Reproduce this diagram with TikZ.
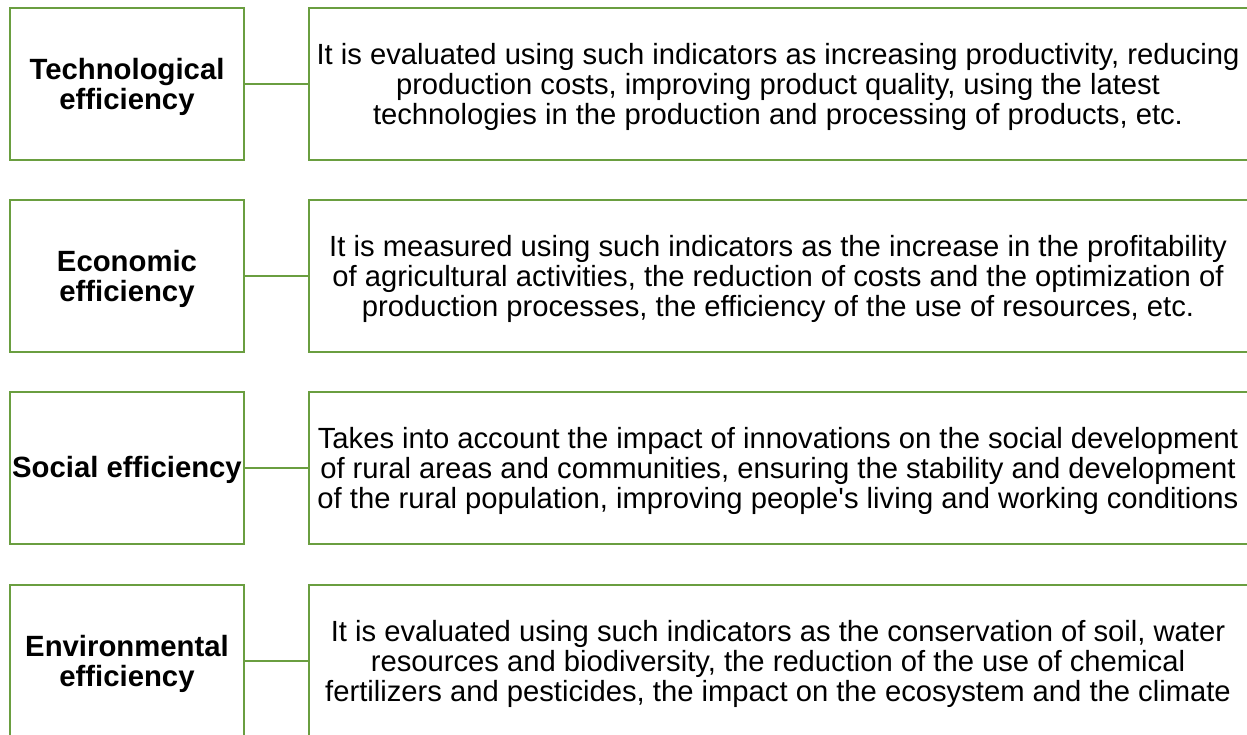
\documentclass[tikz,border=0pt]{standalone}
\usepackage{fontspec}
\setmainfont{Liberation Sans}
\definecolor{boxgreen}{RGB}{106,158,64}
\begin{document}
\begin{tikzpicture}[x=1pt,y=-1pt,
  box/.style={draw=boxgreen,line width=2.7pt,fill=white},
  link/.style={draw=boxgreen,line width=2.7pt},
  lefttext/.style={align=center,font=\fontsize{29.3}{30}\selectfont\bfseries,inner sep=0pt},
  righttext/.style={align=center,font=\fontsize{29.2}{29.7}\selectfont,inner sep=0pt}]
\useasboundingbox (0,0) rectangle (1247,734);
\clip (0,0) rectangle (1247,734);
% row 1
\draw[box] (10,8) rectangle (244,160);
\draw[box] (309,8) rectangle (1262,160);
\node[lefttext] (l1) at (127,87) {Technological\\efficiency};
\node[righttext] (r1) at (778,87) {It is evaluated using such indicators as increasing productivity, reducing\\production costs, improving product quality, using the latest\\technologies in the production and processing of products, etc.};
\coordinate (a1) at (244,84); \coordinate (b1) at (309,84);
\draw[link] (a1) -- (b1);
% row 2
\draw[box] (10,200) rectangle (244,352);
\draw[box] (309,200) rectangle (1262,352);
\node[lefttext] (l2) at (127,279) {Economic\\efficiency};
\node[righttext] (r2) at (778,279) {It is measured using such indicators as the increase in the profitability\\of agricultural activities, the reduction of costs and the optimization of\\production processes, the efficiency of the use of resources, etc.};
\coordinate (a2) at (244,276); \coordinate (b2) at (309,276);
\draw[link] (a2) -- (b2);
% row 3
\draw[box] (10,392) rectangle (244,544);
\draw[box] (309,392) rectangle (1262,544);
\node[lefttext] (l3) at (127,470) {Social efficiency};
\node[righttext] (r3) at (778,471) {Takes into account the impact of innovations on the social development\\of rural areas and communities, ensuring the stability and development\\of the rural population, improving people\textquotesingle s living and working conditions};
\coordinate (a3) at (244,468); \coordinate (b3) at (309,468);
\draw[link] (a3) -- (b3);
% row 4
\draw[box] (10,585) rectangle (244,760);
\draw[box] (309,585) rectangle (1262,760);
\node[lefttext] (l4) at (127,664) {Environmental\\efficiency};
\node[righttext] (r4) at (778,664) {It is evaluated using such indicators as the conservation of soil, water\\resources and biodiversity, the reduction of the use of chemical\\fertilizers and pesticides, the impact on the ecosystem and the climate};
\coordinate (a4) at (244,661); \coordinate (b4) at (309,661);
\draw[link] (a4) -- (b4);
\end{tikzpicture}
\end{document}
